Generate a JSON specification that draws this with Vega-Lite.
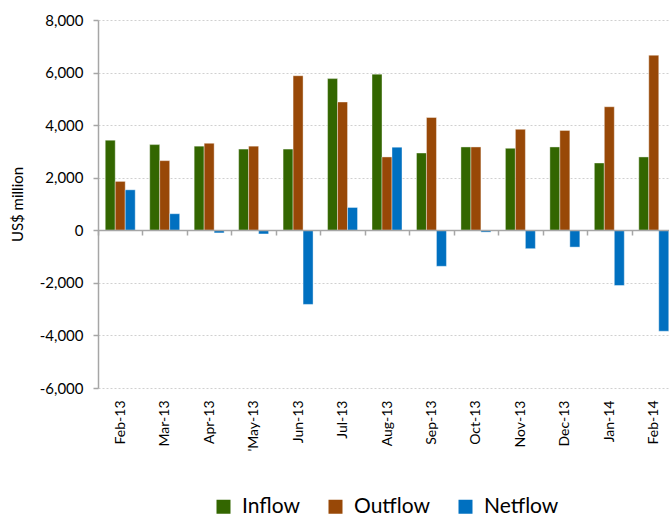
{
  "$schema": "https://vega.github.io/schema/vega-lite/v6.json",
  "width": 571,
  "height": 368,
  "autosize": {"type": "none"},
  "padding": {"left": 98, "top": 20, "right": 0, "bottom": 130},
  "config": {"view": {"stroke": null}, "font": "Lato"},
  "data": {
    "values": [
      {"month": "Feb-13", "series": "Inflow", "value": 3430},
      {"month": "Feb-13", "series": "Outflow", "value": 1860},
      {"month": "Feb-13", "series": "Netflow", "value": 1540},
      {"month": "Mar-13", "series": "Inflow", "value": 3260},
      {"month": "Mar-13", "series": "Outflow", "value": 2650},
      {"month": "Mar-13", "series": "Netflow", "value": 630},
      {"month": "Apr-13", "series": "Inflow", "value": 3200},
      {"month": "Apr-13", "series": "Outflow", "value": 3310},
      {"month": "Apr-13", "series": "Netflow", "value": -100},
      {"month": "'May-13", "series": "Inflow", "value": 3090},
      {"month": "'May-13", "series": "Outflow", "value": 3200},
      {"month": "'May-13", "series": "Netflow", "value": -140},
      {"month": "Jun-13", "series": "Inflow", "value": 3090},
      {"month": "Jun-13", "series": "Outflow", "value": 5880},
      {"month": "Jun-13", "series": "Netflow", "value": -2820},
      {"month": "Jul-13", "series": "Inflow", "value": 5770},
      {"month": "Jul-13", "series": "Outflow", "value": 4880},
      {"month": "Jul-13", "series": "Netflow", "value": 870},
      {"month": "Aug-13", "series": "Inflow", "value": 5940},
      {"month": "Aug-13", "series": "Outflow", "value": 2790},
      {"month": "Aug-13", "series": "Netflow", "value": 3160},
      {"month": "Sep-13", "series": "Inflow", "value": 2940},
      {"month": "Sep-13", "series": "Outflow", "value": 4290},
      {"month": "Sep-13", "series": "Netflow", "value": -1370},
      {"month": "Oct-13", "series": "Inflow", "value": 3170},
      {"month": "Oct-13", "series": "Outflow", "value": 3170},
      {"month": "Oct-13", "series": "Netflow", "value": -70},
      {"month": "Nov-13", "series": "Inflow", "value": 3120},
      {"month": "Nov-13", "series": "Outflow", "value": 3840},
      {"month": "Nov-13", "series": "Netflow", "value": -700},
      {"month": "Dec-13", "series": "Inflow", "value": 3170},
      {"month": "Dec-13", "series": "Outflow", "value": 3800},
      {"month": "Dec-13", "series": "Netflow", "value": -640},
      {"month": "Jan-14", "series": "Inflow", "value": 2560},
      {"month": "Jan-14", "series": "Outflow", "value": 4700},
      {"month": "Jan-14", "series": "Netflow", "value": -2100},
      {"month": "Feb-14", "series": "Inflow", "value": 2790},
      {"month": "Feb-14", "series": "Outflow", "value": 6660},
      {"month": "Feb-14", "series": "Netflow", "value": -3840}
    ]
  },
  "mark": {"type": "bar", "stroke": "#ffffff", "strokeOpacity": 0.5, "strokeWidth": 0.8},
  "encoding": {
    "x": {
      "field": "month",
      "type": "nominal",
      "sort": null,
      "scale": {"range": [0, 578], "paddingInner": 0, "paddingOuter": 0},
      "axis": {
        "title": null,
        "orient": "bottom",
        "offset": -158,
        "zindex": 1,
        "domainColor": "#a6a6a6",
        "domainWidth": 1.5,
        "tickColor": "#a6a6a6",
        "tickWidth": 1.5,
        "tickSize": 5,
        "tickBand": "extent",
        "labelAngle": -90,
        "labelAlign": "right",
        "labelBaseline": "middle",
        "labelFontSize": 14,
        "labelColor": "#000000",
        "labelPadding": 165,
        "labelOverlap": false
      }
    },
    "xOffset": {
      "field": "series",
      "sort": ["Inflow", "Outflow", "Netflow"],
      "scale": {"paddingInner": 0, "paddingOuter": 0.725}
    },
    "y": {
      "field": "value",
      "type": "quantitative",
      "scale": {"domain": [-6000, 8000], "nice": false},
      "axis": {
        "title": "US$ million",
        "values": [-6000, -4000, -2000, 0, 2000, 4000, 6000, 8000],
        "format": ",.0f",
        "labelExpr": "replace(datum.label, '\u2212', '-')",
        "grid": true,
        "gridDash": [2, 2],
        "gridColor": "#d0d0d0",
        "domainColor": "#a6a6a6",
        "domainWidth": 1.5,
        "tickColor": "#a6a6a6",
        "tickWidth": 1.5,
        "tickSize": 5,
        "labelPadding": 10,
        "labelFontSize": 15,
        "labelColor": "#000000",
        "titleFontSize": 15,
        "titleFontWeight": "normal",
        "titleColor": "#000000",
        "titlePadding": 14
      }
    },
    "color": {
      "field": "series",
      "type": "nominal",
      "scale": {"domain": ["Inflow", "Outflow", "Netflow"], "range": ["#336600", "#984807", "#0070C0"]},
      "legend": {
        "title": null,
        "orient": "none",
        "direction": "horizontal",
        "legendX": 115,
        "legendY": 476,
        "symbolType": "square",
        "symbolSize": 196,
        "symbolStrokeWidth": 0,
        "symbolOpacity": 1,
        "labelFontSize": 21,
        "labelColor": "#000000",
        "labelOffset": 8,
        "columnPadding": 25,
        "padding": 0
      }
    }
  }
}
